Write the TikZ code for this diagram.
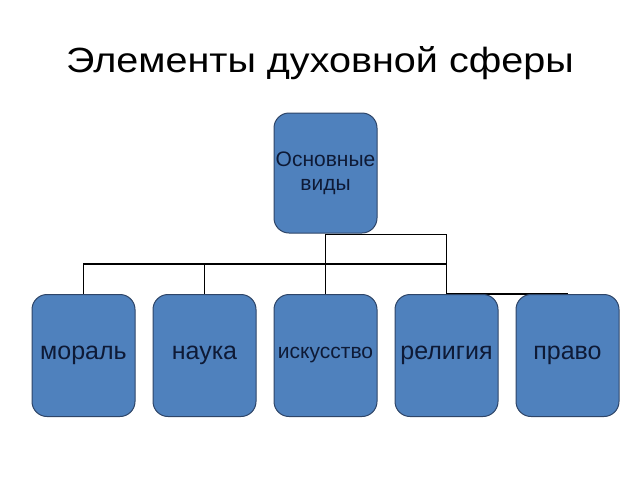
\documentclass[tikz,border=0pt]{standalone}
\usepackage{fontspec}
\setmainfont{Liberation Sans}
\usepackage{graphicx}
\usepackage{tikz}
\usetikzlibrary{positioning, backgrounds}
\definecolor{boxblue}{HTML}{4F81BD}
\definecolor{boxline}{HTML}{2E4568}
\definecolor{boxtext}{HTML}{0E1A36}

\begin{document}
\begin{tikzpicture}[x=1pt, y=1pt,
        vid/.style={draw=boxline, line width=1pt, fill=boxblue, rounded corners=15pt,
        minimum width=103pt, minimum height=122pt, inner sep=1pt, text=boxtext,
        font=\fontsize{25}{27}\selectfont, align=center},
        link/.style={line width=1.8pt, black}]
        \useasboundingbox (0,0) rectangle (640,-480);

        \node (title) [anchor=base] at (320,-72) {\fontsize{35}{38}\selectfont\scalebox{1.13}[1]{Элементы духовной сферы}};

        \node (mainbox) [vid, minimum height=120pt, font=\fontsize{21}{24}\selectfont] at (325.5,-173) {Основные\\виды};

        \node (moral) [vid] at (83.5,-355.5) {мораль};
        \node (nauka) [vid, right=17pt of moral] {наука};
        \node (iskusstvo) [vid, right=17pt of nauka, font=\fontsize{21}{23}\selectfont] {искусство};
        \node (religia) [vid, right=17pt of iskusstvo] {религия};
        \node (pravo) [vid, right=17pt of religia] {право};

        \coordinate (bus) at (0,-264);
        \coordinate (turn) at (0,-234.5);

        \begin{scope}[on background layer]
        \fill [white] (0,0) rectangle (640,-480);
        \draw [link] (mainbox.south) -- (iskusstvo.north);
        \draw [link] (mainbox.south |- turn) -| (religia.north);
        \draw [link] (moral.north) |- (bus -| religia.north);
        \draw [link] (nauka.north) -- (nauka.north |- bus);
        \draw [link] (religia.north) -- (pravo.north);
        \end{scope}
\end{tikzpicture}
\end{document}
